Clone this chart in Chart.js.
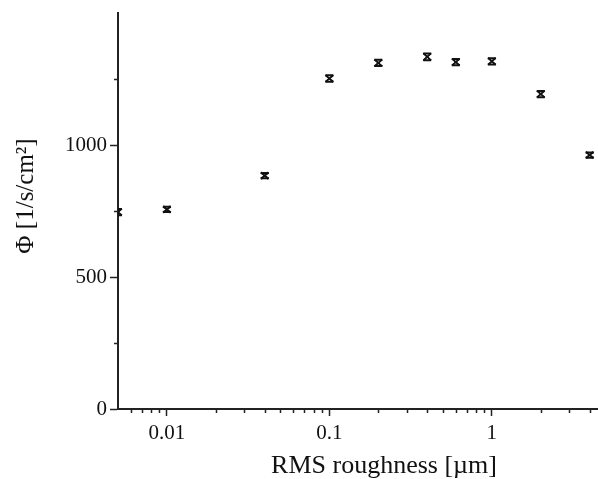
<!DOCTYPE html>
<html>
<head>
<meta charset="utf-8">
<script src="https://cdn.jsdelivr.net/npm/chart.js@4.4.1/dist/chart.umd.min.js"></script>
<style>
    html, body { margin: 0; padding: 0; background: #fff; }
    #wrap { width: 598px; height: 479px; }
</style>
</head>
<body>
<div id="wrap"><canvas id="chart" width="598" height="479"></canvas></div>
<script>
// data
const roughness = [0.005, 0.01, 0.04, 0.1, 0.2, 0.4, 0.6, 1, 2, 4];
const flux = [746, 756, 884, 1252, 1311, 1334, 1314, 1317, 1193, 962];
const fluxErr = [12, 10, 10, 12, 12, 13, 12, 12, 12, 10];

const xTickLabels = [0.01, 0.1, 1];
const yTickLabels = [0, 500, 1000];

const xTitle = 'RMS roughness [\u00b5m]';
const yTitle = '\u03a6 [1/s/cm\u00b2]';

const axisColor = '#222';
const markColor = '#111';
const serif = 'Liberation Serif';

function isLabelValue(list, v) {
    return list.some(function(l) { return Math.abs(l - v) < l * 1e-6 + 1e-9; });
}

// caps for the error bars, drawn through the chart scales
const errorBars = {
    id: 'errorBars',
    afterDatasetsDraw: function(chart) {
        const ctx = chart.ctx;
        const xs = chart.scales.x;
        const ys = chart.scales.y;
        const area = chart.chartArea;
        ctx.save();
        ctx.beginPath();
        ctx.rect(area.left, area.top - 5, area.right - area.left + 5, area.bottom - area.top + 10);
        ctx.clip();
        ctx.strokeStyle = markColor;
        for (let i = 0; i < roughness.length; i++) {
            const px = xs.getPixelForValue(roughness[i]);
            const top = ys.getPixelForValue(flux[i] + fluxErr[i]);
            const bot = ys.getPixelForValue(flux[i] - fluxErr[i]);
            ctx.lineWidth = 2;
            ctx.beginPath();
            ctx.moveTo(px - 4, top); ctx.lineTo(px + 4, top);
            ctx.moveTo(px - 4, bot); ctx.lineTo(px + 4, bot);
            ctx.stroke();
            ctx.lineWidth = 1.5;
            ctx.beginPath();
            ctx.moveTo(px - 4, top); ctx.lineTo(px + 4, bot);
            ctx.moveTo(px + 4, top); ctx.lineTo(px - 4, bot);
            ctx.stroke();
        }
        ctx.restore();
    }
};

// short minor tick marks and the two axis titles
const axisExtras = {
    id: 'axisExtras',
    afterDraw: function(chart) {
        const ctx = chart.ctx;
        const xs = chart.scales.x;
        const ys = chart.scales.y;
        const area = chart.chartArea;
        ctx.save();
        ctx.strokeStyle = axisColor;
        ctx.lineWidth = 1.5;
        ctx.beginPath();
        xs.ticks.forEach(function(t) {
            if (isLabelValue(xTickLabels, t.value)) return;
            const px = Math.round(xs.getPixelForValue(t.value)) + 0.5;
            ctx.moveTo(px, area.bottom);
            ctx.lineTo(px, area.bottom + 4);
        });
        ys.ticks.forEach(function(t) {
            if (isLabelValue(yTickLabels, t.value) || t.value >= ys.max) return;
            const py = Math.round(ys.getPixelForValue(t.value)) + 0.5;
            ctx.moveTo(area.left, py);
            ctx.lineTo(area.left - 4, py);
        });
        ctx.stroke();

        ctx.fillStyle = '#111';
        ctx.textAlign = 'center';
        ctx.textBaseline = 'alphabetic';
        ctx.font = '26px "' + serif + '"';
        ctx.fillText(xTitle, 384, 473);

        ctx.font = '25px "' + serif + '"';
        ctx.translate(33, 196);
        ctx.rotate(-Math.PI / 2);
        ctx.fillText(yTitle, 0, 0);
        ctx.restore();
    }
};

const ctx = document.getElementById('chart').getContext('2d');
const chart = new Chart(ctx, {
    type: 'scatter',
    data: {
        datasets: [{
            label: 'flux',
            data: roughness.map(function(r, i) { return { x: r, y: flux[i] }; }),
            pointStyle: 'crossRot',
            pointRadius: 5,
            pointHoverRadius: 5,
            borderColor: markColor,
            backgroundColor: markColor,
            borderWidth: 1.5
        }]
    },
    options: {
        responsive: false,
        animation: false,
        events: [],
        layout: {
            autoPadding: false,
            padding: { top: 13, right: 0, left: 0, bottom: 0 }
        },
        plugins: {
            legend: { display: false },
            tooltip: { enabled: false },
            title: { display: false }
        },
        scales: {
            x: {
                type: 'logarithmic',
                min: 0.005,
                max: 4.5,
                afterBuildTicks: function(scale) {
                    const ticks = [];
                    for (let e = -3; e <= 1; e++) {
                        for (let m = 1; m <= 9; m++) {
                            const v = parseFloat((m * Math.pow(10, e)).toPrecision(6));
                            if (v > scale.min * 1.0001 && v <= scale.max) ticks.push({ value: v });
                        }
                    }
                    scale.ticks = ticks;
                },
                afterFit: function(scale) {
                    scale.height = 70;
                    scale.paddingLeft = 0;
                    scale.paddingRight = 0;
                },
                border: { display: true, color: axisColor, width: 2 },
                grid: {
                    drawOnChartArea: false,
                    drawTicks: true,
                    tickLength: 7,
                    tickWidth: 1.5,
                    tickColor: function(c) {
                        return c.tick && isLabelValue(xTickLabels, c.tick.value) ? axisColor : 'rgba(0,0,0,0)';
                    }
                },
                ticks: {
                    autoSkip: false,
                    maxRotation: 0,
                    padding: 5,
                    color: '#111',
                    font: { family: serif, size: 21 },
                    callback: function(value) {
                        return isLabelValue(xTickLabels, value) ? String(value) : '';
                    }
                }
            },
            y: {
                min: 0,
                max: 1500,
                afterFit: function(scale) {
                    scale.width = 118;
                    scale.paddingTop = 0;
                    scale.paddingBottom = 0;
                },
                border: { display: true, color: axisColor, width: 2 },
                grid: {
                    drawOnChartArea: false,
                    drawTicks: true,
                    tickLength: 8,
                    tickWidth: 1.5,
                    tickColor: function(c) {
                        return c.tick && isLabelValue(yTickLabels, c.tick.value) ? axisColor : 'rgba(0,0,0,0)';
                    }
                },
                ticks: {
                    stepSize: 250,
                    padding: 3,
                    color: '#111',
                    font: { family: serif, size: 21 },
                    callback: function(value) {
                        return isLabelValue(yTickLabels, value) ? String(value) : '';
                    }
                }
            }
        }
    },
    plugins: [errorBars, axisExtras]
});
</script>
</body>
</html>
